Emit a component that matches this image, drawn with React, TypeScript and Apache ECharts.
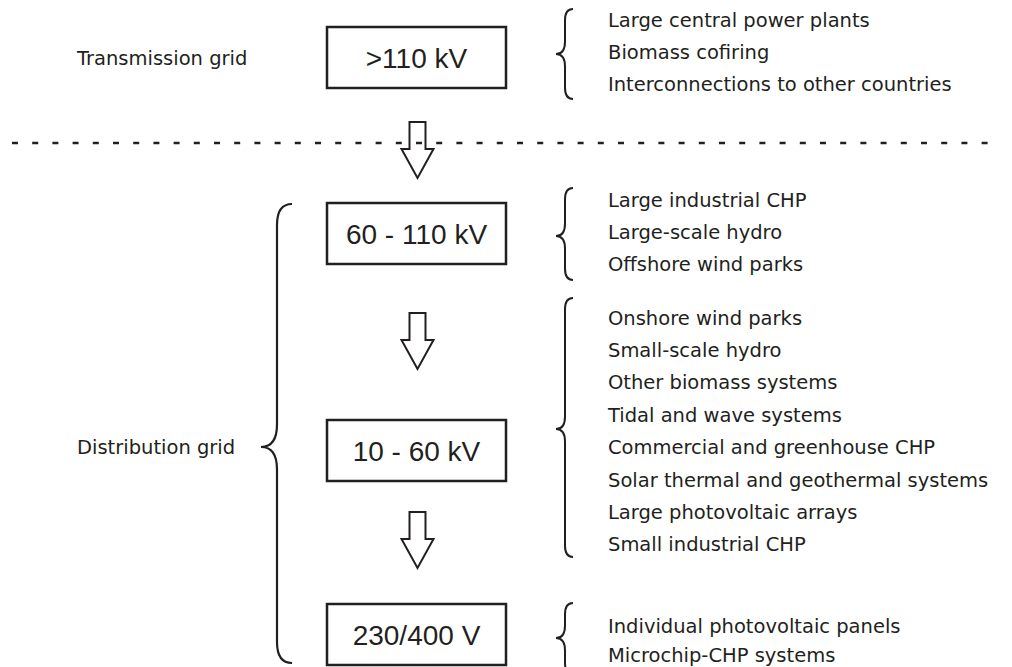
import React, { useEffect, useRef } from "react";
import * as echarts from "echarts";

const levelLabels = [">110 kV", "60 - 110 kV", "10 - 60 kV", "230/400 V"];
const gridLabels = ["Transmission grid", "Distribution grid"];
const sourcesHV = ["Large central power plants", "Biomass cofiring", "Interconnections to other countries"];
const sourcesMV1 = ["Large industrial CHP", "Large-scale hydro", "Offshore wind parks"];
const sourcesMV2 = [
  "Onshore wind parks",
  "Small-scale hydro",
  "Other biomass systems",
  "Tidal and wave systems",
  "Commercial and greenhouse CHP",
  "Solar thermal and geothermal systems",
  "Large photovoltaic arrays",
  "Small industrial CHP",
];
const sourcesLV = ["Individual photovoltaic panels", "Microchip-CHP systems"];

const INK = "#231f20";
const TEXT_FONT = "DejaVu Sans";
const TEXT_SIZE = 19.5;

let registered = false;
function registerShapes() {
  if (registered) return;
  registered = true;
  const Brace = (echarts.graphic as any).extendShape({
    shape: { x: 0, y1: 0, ym: 0, y2: 0, w: 8, t: 8 },
    buildPath(ctx: any, s: any) {
      const { x, y1, ym, y2, w, t } = s;
      ctx.moveTo(x + w, y1);
      ctx.quadraticCurveTo(x, y1, x, y1 + w * 1.4);
      ctx.lineTo(x, ym - t * 1.4);
      ctx.quadraticCurveTo(x, ym, x - t, ym);
      ctx.quadraticCurveTo(x, ym, x, ym + t * 1.4);
      ctx.lineTo(x, y2 - w * 1.4);
      ctx.quadraticCurveTo(x, y2, x + w, y2);
    },
  });
  (echarts.graphic as any).registerShape("brace", Brace);
}

export default function App() {
  const ref = useRef<HTMLDivElement>(null);
  useEffect(() => {
    registerShapes();
    const chart = echarts.init(ref.current!, null, { renderer: "svg" });
    const els: any[] = [];

    // dashed separator
    els.push({
      type: "line",
      shape: { x1: 12, y1: 143, x2: 992, y2: 143 },
      style: { stroke: INK, lineWidth: 2.5, lineDash: [6, 14.2] },
    });

    // boxes
    const boxYs = [27, 203, 420, 604];
    levelLabels.forEach((lab, i) => {
      els.push({
        type: "rect",
        shape: { x: 327, y: boxYs[i], width: 179, height: 61 },
        style: { fill: "none", stroke: INK, lineWidth: 2.5 },
      });
      els.push({
        type: "text",
        style: {
          text: lab,
          x: 416.5,
          y: boxYs[i] + 31,
          align: "center",
          verticalAlign: "middle",
          fontFamily: "Liberation Sans",
          fontSize: 28,
          fill: INK,
        },
      });
    });

    // arrows
    const arrowTops = [122, 313, 512];
    arrowTops.forEach((y0) => {
      els.push({
        type: "polygon",
        shape: {
          points: [
            [409.5, y0],
            [425.5, y0],
            [425.5, y0 + 27],
            [433.5, y0 + 27],
            [417.5, y0 + 56],
            [401.5, y0 + 27],
            [409.5, y0 + 27],
          ],
        },
        style: { fill: "none", stroke: INK, lineWidth: 2 },
      });
    });

    // grid labels
    const gridYs = [58, 447];
    gridLabels.forEach((g, i) => {
      els.push({
        type: "text",
        style: {
          text: g,
          x: 77,
          y: gridYs[i],
          align: "left",
          verticalAlign: "middle",
          fontFamily: TEXT_FONT,
          fontSize: TEXT_SIZE,
          fill: INK,
        },
      });
    });

    // big brace
    els.push({
      type: "brace",
      shape: { x: 277, y1: 204, ym: 447, y2: 663, w: 15, t: 16 },
      style: { fill: "none", stroke: INK, lineWidth: 2.2 },
    });

    // source lists with braces
    const groups = [
      { items: sourcesHV, y0: 20, y1: 9, ym: 54, y2: 99 },
      { items: sourcesMV1, y0: 200, y1: 188, ym: 236, y2: 280 },
      { items: sourcesMV2, y0: 318, y1: 298, ym: 429, y2: 557 },
      { items: sourcesLV, y0: 626, y1: 603, ym: 638, y2: 674 },
    ];
    groups.forEach((g) => {
      els.push({
        type: "brace",
        shape: { x: 565, y1: g.y1, ym: g.ym, y2: g.y2, w: 8, t: 9 },
        style: { fill: "none", stroke: INK, lineWidth: 2 },
      });
      g.items.forEach((t, j) => {
        els.push({
          type: "text",
          style: {
            text: t,
            x: 608,
            y: g.y0 + j * (g.items.length === 2 ? 29.5 : 32.4),
            align: "left",
            verticalAlign: "middle",
            fontFamily: TEXT_FONT,
            fontSize: TEXT_SIZE,
            fill: INK,
          },
        });
      });
    });

    chart.setOption({
      animation: false,
      backgroundColor: "#ffffff",
      graphic: { elements: els },
    });
    return () => chart.dispose();
  }, []);
  return (
    <div
      ref={ref}
      style={{ position: "fixed", left: 0, top: 0, width: 1012, height: 667 }}
    />
  );
}
